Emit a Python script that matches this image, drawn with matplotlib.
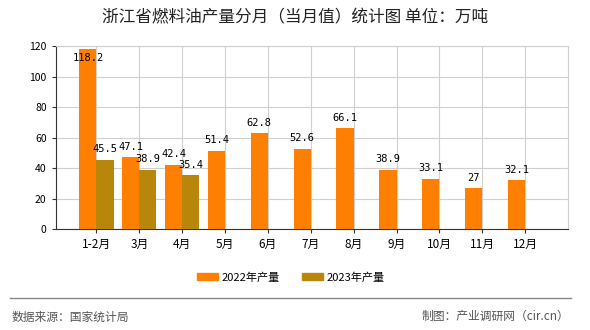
import numpy as np
from matplotlib import pyplot as plt
from matplotlib.patches import Patch
from matplotlib.lines import Line2D

plt.rcParams['font.family'] = ['Noto Sans CJK SC', 'DejaVu Sans']

# 数据
months = ["1-2月", "3月", "4月", "5月", "6月", "7月", "8月", "9月", "10月", "11月", "12月"]
prod_2022 = [118.2, 47.1, 42.4, 51.4, 62.8, 52.6, 66.1, 38.9, 33.1, 27, 32.1]
prod_2023 = [45.5, 38.9, 35.4]
labels_2022 = ["118.2", "47.1", "42.4", "51.4", "62.8", "52.6", "66.1", "38.9", "33.1", "27", "32.1"]
labels_2023 = ["45.5", "38.9", "35.4"]

c2022 = "#FF8000"
c2023 = "#B8860B"
bar_w = 0.4

fig = plt.figure(figsize=(5.9, 3.3), dpi=100)
ax = fig.add_axes([0.0944, 0.305, 0.8683, 0.5556])

x = np.arange(len(months))
x23 = np.arange(len(prod_2023))
ax.bar(x - bar_w / 2, prod_2022, width=bar_w, color=c2022, zorder=3)
ax.bar(x23 + bar_w / 2, prod_2023, width=bar_w, color=c2023, zorder=3)

# 数据标签
mono = "DejaVu Sans Mono"
for xi, v, s in zip(x, prod_2022, labels_2022):
    if v > 110:
        ax.annotate(s, (xi - bar_w / 2, v), xytext=(0, -3), textcoords="offset points",
                    ha="center", va="top", fontsize=7.5, family=mono, zorder=4)
    else:
        ax.annotate(s, (xi - bar_w / 2, v), xytext=(0, 4), textcoords="offset points",
                    ha="center", va="bottom", fontsize=7.5, family=mono, zorder=4)
for xi, v, s in zip(x23, prod_2023, labels_2023):
    ax.annotate(s, (xi + bar_w / 2, v), xytext=(0, 4), textcoords="offset points",
                ha="center", va="bottom", fontsize=7.5, family=mono, zorder=4)

ax.set_xlim(-0.95, len(months))
ax.set_ylim(0, 120)
ax.set_yticks(np.arange(0, 121, 20))
ax.set_xticks(x)
ax.set_xticklabels(months)
ax.tick_params(axis="y", labelsize=7.5, length=3, color="#333333")
ax.tick_params(axis="x", labelsize=8.5, length=3, color="#333333")
ax.grid(True, color="#d0d0d0", linewidth=0.8, zorder=0)
for side in ["top", "right"]:
    ax.spines[side].set_color("#d0d0d0")
ax.spines["left"].set_color("#333333")
ax.spines["bottom"].set_color("#333333")

fig.text(0.5, 0.945, "浙江省燃料油产量分月（当月值）统计图 单位：万吨",
         ha="center", va="center", fontsize=12, color="#222222")

handles = [Patch(color=c2022, label="2022年产量"), Patch(color=c2023, label="2023年产量")]
fig.legend(handles=handles, loc="center", bbox_to_anchor=(0.493, 0.16), ncol=2, frameon=False,
           fontsize=8, handlelength=1.9, handleheight=0.6, columnspacing=2.0, handletextpad=0.3)

fig.add_artist(Line2D([0.017, 0.968], [0.097, 0.097], transform=fig.transFigure,
                      color="#888888", linewidth=1))

fig.text(0.019, 0.040, "数据来源：国家统计局", ha="left", va="center", fontsize=8.5, color="#555555")
fig.text(0.965, 0.040, "制图：产业调研网（cir.cn）", ha="right", va="center", fontsize=8.5, color="#555555")

fig.savefig("out.png", dpi=100)
